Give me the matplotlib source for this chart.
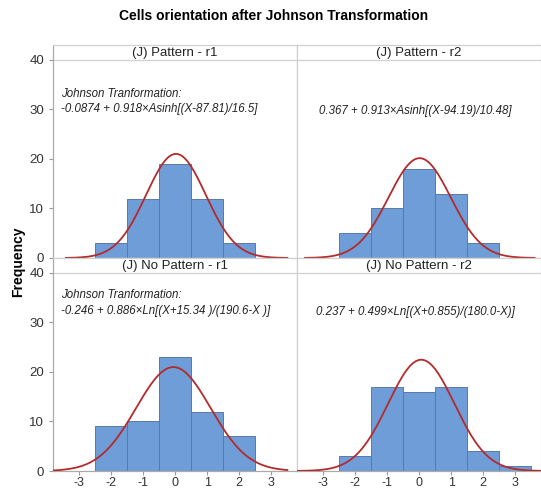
import numpy as np
import matplotlib.pyplot as plt

plt.rcParams['font.family'] = ['Liberation Sans', 'DejaVu Sans']

# bin centres (transformed values) and counts per panel
bins_std = [-2, -1, 0, 1, 2]
bins_wide = [-2, -1, 0, 1, 2, 3]

titles = ['(J) Pattern - r1', '(J) Pattern - r2',
          '(J) No Pattern - r1', '(J) No Pattern - r2']
centers = [bins_std, bins_std, bins_std, bins_wide]
counts = [
    [3, 12, 19, 12, 3],
    [5, 10, 18, 13, 3],
    [9, 10, 23, 12, 7],
    [3, 17, 16, 17, 4, 1],
]

# fitted normal curve (mean, sd) on the transformed scale
fit_mean = [0.03, 0.02, -0.05, 0.07]
fit_sd = [0.93, 0.97, 1.16, 1.03]
curve_range = [(-3.4, 3.5), (-3.55, 3.6), (-3.8, 3.5), (-3.8, 3.8)]

notes = [
    'Johnson Tranformation:\n-0.0874 + 0.918\u00d7Asinh[(X-87.81)/16.5]',
    '0.367 + 0.913\u00d7Asinh[(X-94.19)/10.48]',
    'Johnson Tranformation:\n-0.246 + 0.886\u00d7Ln[(X+15.34 )/(190.6-X )]',
    '0.237 + 0.499\u00d7Ln[(X+0.855)/(180.0-X)]',
]

W, H = 541, 491
fig = plt.figure(figsize=(W / 100, H / 100), dpi=100)

boxes = [(53, 45, 297, 258), (297, 45, 541, 258),
         (53, 258, 297, 471), (297, 258, 541, 471)]

bar_col = '#6f9dd8'
edge_col = '#5a79a6'
curve_col = '#b32b2b'
frame_col = '#d0d0d0'

for i in range(4):
    x0, y0, x1, y1 = boxes[i]
    ax = fig.add_axes([x0 / W, 1 - y1 / H, (x1 - x0) / W, (y1 - y0) / H])
    ax.bar(centers[i], counts[i], width=1.0, color=bar_col,
           edgecolor=edge_col, linewidth=0.7, zorder=2)

    n = sum(counts[i])
    xs = np.linspace(curve_range[i][0], curve_range[i][1], 300)
    ys = n / (fit_sd[i] * np.sqrt(2 * np.pi)) * np.exp(-0.5 * ((xs - fit_mean[i]) / fit_sd[i]) ** 2)
    ax.plot(xs, ys, color=curve_col, lw=1.3, zorder=3)

    ax.set_xlim(-3.8, 3.8)
    ax.set_ylim(0, 43)
    ax.axhline(40, color=frame_col, lw=0.9, zorder=1)
    ax.text(0, 41.3, titles[i], ha='center', va='center', fontsize=9.5, color='#222222')

    if i % 2 == 0:
        ax.text(-3.55, 31.6 if i == 0 else 33.9, notes[i], ha='left', va='center',
                fontsize=8.3, style='italic', color='#222222', linespacing=1.4)
    else:
        ax.text(-0.1, 29.7 if i == 1 else 32.0, notes[i], ha='center', va='center',
                fontsize=8.3, style='italic', color='#222222')

    for s in ax.spines.values():
        s.set_color(frame_col)
        s.set_linewidth(0.9)

    ax.set_yticks([0, 10, 20, 30, 40])
    ax.set_xticks([-3, -2, -1, 0, 1, 2, 3])
    ax.tick_params(colors='#999999', labelcolor='#333333', labelsize=9.5, length=3, width=0.8)
    ax.tick_params(axis='x', pad=1.5, labelsize=9)
    if i % 2 == 1:
        ax.tick_params(axis='y', left=False, labelleft=False)
    else:
        ax.spines['left'].set_color('#aaaaaa')
    if i < 2:
        ax.tick_params(axis='x', bottom=False, labelbottom=False)
    else:
        ax.spines['bottom'].set_color('#aaaaaa')
        ax.set_xticklabels(['-3', '-2', '-1', '0', '1', '2', '3'])
    ax.set_yticklabels(['0', '10', '20', '30', '40'])

fig.text(274 / W, 1 - 16 / H, 'Cells orientation after Johnson Transformation',
         ha='center', va='center', fontsize=10, fontweight='bold')
fig.text(18 / W, 1 - 262 / H, 'Frequency', ha='center', va='center',
         rotation=90, fontsize=10, fontweight='bold')

fig.savefig('out.png', dpi=100)
